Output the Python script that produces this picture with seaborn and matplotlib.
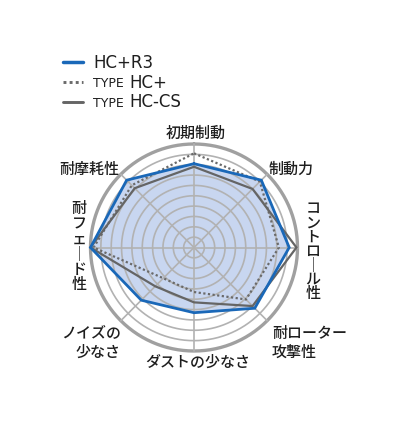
import numpy as np
import pandas as pd
import matplotlib
matplotlib.use("Agg")
import matplotlib.pyplot as plt
import seaborn as sns
from matplotlib.lines import Line2D

# categories clockwise from the top
categories = ['初期制動', '制動力', 'コントロール性', '耐ローター攻撃性',
              'ダストの少なさ', 'ノイズの少なさ', '耐フェード性', '耐摩耗性']
hc_r3 = [8.1, 9.2, 9.2, 8.3, 6.3, 7.2, 10.0, 9.2]
type_hc_plus = [9.1, 9.0, 8.2, 7.1, 4.3, 4.2, 9.7, 8.5]
type_hc_cs = [7.8, 8.0, 9.9, 8.0, 5.3, 5.3, 10.0, 8.1]
series_names = ['HC+R3', 'TYPE HC+', 'TYPE HC-CS']
ring_levels = list(range(1, 11))

sns.set_theme(style="white")
plt.rcParams['font.family'] = ['Noto Sans CJK JP', 'DejaVu Sans']

W, H = 400, 427
fig = plt.figure(figsize=(W / 100, H / 100), dpi=100)
fig.patch.set_facecolor('white')

# polar axes: centre (194, 248.5) px, radius for 10 = 103.5 px
rmax = 10.3
rad_px = 103.5 * rmax / 10
cx, cy = 194, 248.5
ax = fig.add_axes([(cx - rad_px) / W, (H - cy - rad_px) / H, 2 * rad_px / W, 2 * rad_px / H],
                  projection='polar')
ax.set_theta_zero_location('N')
ax.set_theta_direction(-1)
ax.set_ylim(0, rmax)
ax.grid(False)
ax.set_xticks([])
ax.set_yticks([])
ax.spines['polar'].set_visible(False)
ax.set_facecolor('none')

n = len(categories)
angles = np.linspace(0, 2 * np.pi, n, endpoint=False)
theta = np.append(angles, 2 * np.pi)

rows = []
for name, vals in zip(series_names, [hc_r3, type_hc_plus, type_hc_cs]):
    closed = list(vals) + [vals[0]]
    for t, v in zip(theta, closed):
        rows.append({'series': name, 'theta': t, 'value': v})
df = pd.DataFrame(rows)

# fill under HC+R3
ax.fill(theta, list(hc_r3) + [hc_r3[0]], color='#c8d6f0', zorder=1, lw=0)

# grid rings and spokes
circ = np.linspace(0, 2 * np.pi, 361)
for lvl in ring_levels:
    if lvl == ring_levels[-1]:
        ax.plot(circ, [lvl] * len(circ), color='#a0a0a0', lw=2.4, zorder=2)
    else:
        ax.plot(circ, [lvl] * len(circ), color='#b2b2b2', lw=1.2, zorder=2)
for a in angles:
    ax.plot([a, a], [0, ring_levels[-1]], color='#b2b2b2', lw=1.2, zorder=2)

palette = {'HC+R3': '#1a68b8', 'TYPE HC+': '#6a6a6a', 'TYPE HC-CS': '#656565'}
dashes = {'HC+R3': '', 'TYPE HC+': (1, 1.1), 'TYPE HC-CS': ''}
sns.lineplot(data=df, x='theta', y='value', hue='series', style='series',
             palette=palette, dashes=dashes, sort=False, estimator=None,
             legend=False, ax=ax, zorder=3)
widths = {'HC+R3': 2.0, 'TYPE HC+': 1.6, 'TYPE HC-CS': 1.6}
for line, name in zip(ax.get_lines()[-3:], series_names):
    line.set_linewidth(widths[name])
    line.set_clip_on(False)
    line.set_solid_joinstyle('miter')
# draw blue on top
ax.get_lines()[-3].set_zorder(4)
ax.set_xlabel('')
ax.set_ylabel('')


def px(x, y):
    return x / W, 1 - y / H


label_kw = dict(fontsize=10.8, color='#1e1e1e', fontweight='medium')
fig.text(*px(196, 133), categories[0], ha='center', va='center', **label_kw)
fig.text(*px(291, 169), categories[1], ha='center', va='center', **label_kw)
fig.text(*px(89, 169), categories[7], ha='center', va='center', **label_kw)
fig.text(*px(197.5, 362), categories[4], ha='center', va='center', **label_kw)
fig.text(*px(272, 334), '耐ローター', ha='left', va='center', **label_kw)
fig.text(*px(272, 352), '攻撃性', ha='left', va='center', **label_kw)
fig.text(*px(121, 334), 'ノイズの', ha='right', va='center', **label_kw)
fig.text(*px(121, 352), '少なさ', ha='right', va='center', **label_kw)

renderer = fig.canvas.get_renderer()


def vertical(text, x, y_top, height):
    # one stacked text, long vowel mark turned upright
    s = '\n'.join('｜' if ch == 'ー' else ch for ch in text)
    t = fig.text(*px(x, y_top), s, ha='center', va='top', ma='center',
                 linespacing=1.0, **label_kw)
    ls = 1.0
    for _ in range(6):
        bb = t.get_window_extent(renderer)
        nlines = len(text)
        step = (bb.height - bb.height / nlines) / (nlines - 1)
        want = (height - bb.height / nlines) / (nlines - 1)
        ls *= want / step
        t.set_linespacing(ls)
    return t


vertical(categories[2], 313, 200, 102)
vertical(categories[6], 79, 200, 93)

# legend
leg_y = [62.5, 82.5, 102.5]
for y, name in zip(leg_y, series_names):
    fig.add_artist(Line2D([63 / W, 83 / W], [1 - y / H, 1 - y / H],
                          color=palette[name], lw=widths[name] + 0.5,
                          linestyle=(0, (1, 1.1)) if name == 'TYPE HC+' else '-'))
fig.text(*px(93, leg_y[0]), 'HC+R3', ha='left', va='center', fontsize=12,
         family='DejaVu Sans', color='#1e1e1e')
for y, name in zip(leg_y[1:], series_names[1:]):
    fig.text(*px(93, y + 1), 'TYPE', ha='left', va='center', fontsize=9,
             family='DejaVu Sans', color='#1e1e1e')
    fig.text(*px(129, y), name.split(' ')[1], ha='left', va='center', fontsize=12,
             family='DejaVu Sans', color='#1e1e1e')

fig.savefig('out.png', dpi=100, facecolor='white')
